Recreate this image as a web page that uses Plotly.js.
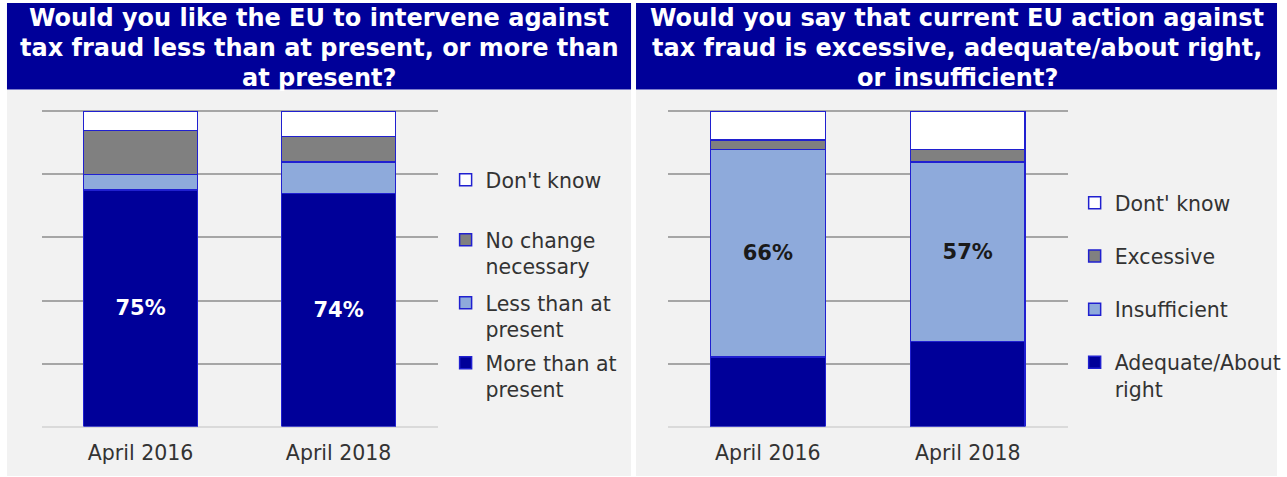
<!DOCTYPE html>
<html>
<head>
<meta charset="utf-8">
<script src="https://cdn.plot.ly/plotly-3.0.1.min.js"></script>
<style>html,body{margin:0;padding:0;background:#fff;}#chart{width:1287px;height:477px;}</style>
</head>
<body>
<div id="chart"></div>
<script>
// Data
const categories = ['April 2016', 'April 2018'];
// Left chart: Would you like the EU to intervene against tax fraud ...
const moreThanPresent = [75, 74];
const lessThanPresent = [5, 10];
const noChangeNecessary = [14, 8];
const dontKnowLeft = [6, 8];
// Right chart: current EU action against tax fraud is ...
const adequateAboutRight = [22, 27];
const insufficient = [66, 57];
const excessive = [3, 4];
const dontKnowRight = [9, 12];

const leftLabels = ['Don\'t know', 'No change<br>necessary', 'Less than at<br>present', 'More than at<br>present'];
const rightLabels = ['Dont\' know', 'Excessive', 'Insufficient', 'Adequate/About<br>right'];
const leftTitleLines = ['Would you like the EU to intervene against', 'tax fraud less than at present, or more than', 'at present?'];
const rightTitleLines = ['Would you say that current EU action against', 'tax fraud is excessive, adequate/about right,', 'or insufficient?'];

const NAVY = '#000099', LIGHT = '#8eaadb', GREY = '#808080', WHITE = '#ffffff', EDGE = '#2020d0';
const FONT = 'DejaVu Sans, Verdana, sans-serif';

function bar(name, y, color, xa, ya, legend, rank, withText, textColor) {
  const t = {
    type: 'bar', name: name, x: categories, y: y, xaxis: xa, yaxis: ya,
    legend: legend, legendgroup: legend + rank, legendrank: rank,
    marker: {color: color, line: {color: EDGE, width: 1.5}},
    width: 0.575,
    hoverinfo: 'skip'
  };
  if (withText) {
    t.text = y.map(v => v + '%');
    t.textposition = 'inside';
    t.insidetextanchor = 'middle';
    t.textangle = 0;
    t.constraintext = 'none';
    t.insidetextfont = {family: FONT, size: 21, color: textColor, weight: 'bold'};
  } else {
    t.textposition = 'none';
  }
  return t;
}

const data = [
  bar(leftLabels[3], moreThanPresent, NAVY, 'x', 'y', 'legend6', 4, true, '#ffffff'),
  bar(leftLabels[2], lessThanPresent, LIGHT, 'x', 'y', 'legend5', 3, false),
  bar(leftLabels[1], noChangeNecessary, GREY, 'x', 'y', 'legend4', 2, false),
  bar(leftLabels[0], dontKnowLeft, WHITE, 'x', 'y', 'legend3', 1, false),
  bar(rightLabels[3], adequateAboutRight, NAVY, 'x2', 'y2', 'legend2', 4, false),
  bar(rightLabels[2], insufficient, LIGHT, 'x2', 'y2', 'legend2', 3, true, '#1a1a1a'),
  bar(rightLabels[1], excessive, GREY, 'x2', 'y2', 'legend2', 2, false),
  bar(rightLabels[0], dontKnowRight, WHITE, 'x2', 'y2', 'legend2', 1, false)
];

const W = 1287, H = 477;
const px = v => v / W, py = v => 1 - v / H;

const yAxisCommon = {
  range: [0, 100.6], dtick: 20, showticklabels: false, ticks: '',
  showgrid: true, gridcolor: '#a6a6a6', gridwidth: 2,
  zeroline: true, zerolinecolor: '#dadada', zerolinewidth: 2,
  showline: false, fixedrange: true,
  domain: [py(426.5), py(109.6)]
};
const xAxisCommon = {
  type: 'category', showgrid: false, zeroline: false, showline: false, ticks: '',
  tickfont: {family: FONT, size: 20.5, color: '#333333'}, fixedrange: true,
  ticklabelstandoff: 12
};

const legendCommon = {
  font: {family: FONT, size: 20.5, color: '#333333'},
  bgcolor: 'rgba(0,0,0,0)', borderwidth: 0,
  traceorder: 'grouped', valign: 'top',
  xanchor: 'left', yanchor: 'top', itemclick: false, itemdoubleclick: false
};
const lx = px(447);

const titleAnn = (text, x, y) => ({
  xref: 'paper', yref: 'paper', x: px(x), y: py(y), xanchor: 'center', yanchor: 'middle',
  showarrow: false, align: 'center', text: text,
  font: {family: FONT, size: 24, color: '#ffffff', weight: 'bold'}
});
const lineY = [18.5, 48.5, 78];

const layout = {
  width: W, height: H,
  margin: {l: 0, r: 0, t: 0, b: 0},
  paper_bgcolor: '#ffffff', plot_bgcolor: 'rgba(0,0,0,0)',
  barmode: 'stack',
  showlegend: true,
  xaxis: Object.assign({}, xAxisCommon, {domain: [px(41.7), px(439)], anchor: 'y'}),
  yaxis: Object.assign({}, yAxisCommon, {anchor: 'x'}),
  xaxis2: Object.assign({}, xAxisCommon, {domain: [px(670), px(1071)], anchor: 'y2'}),
  yaxis2: Object.assign({}, yAxisCommon, {anchor: 'x2'}),
  legend3: Object.assign({}, legendCommon, {x: lx, y: py(160)}),
  legend4: Object.assign({}, legendCommon, {x: lx, y: py(220)}),
  legend5: Object.assign({}, legendCommon, {x: lx, y: py(283)}),
  legend6: Object.assign({}, legendCommon, {x: lx, y: py(343)}),
  legend2: Object.assign({}, legendCommon, {x: px(1078), y: py(183), tracegroupgap: 23.5}),
  shapes: [
    {type: 'rect', xref: 'paper', yref: 'paper', x0: px(7), x1: px(633), y0: py(476), y1: py(90), fillcolor: '#f2f2f2', line: {width: 0}, layer: 'below'},
    {type: 'rect', xref: 'paper', yref: 'paper', x0: px(638), x1: px(1281), y0: py(476), y1: py(90), fillcolor: '#f2f2f2', line: {width: 0}, layer: 'below'},
    {type: 'rect', xref: 'paper', yref: 'paper', x0: px(7), x1: px(633), y0: py(89.5), y1: py(3), fillcolor: NAVY, line: {width: 0}, layer: 'below'},
    {type: 'rect', xref: 'paper', yref: 'paper', x0: px(638), x1: px(1281), y0: py(89.5), y1: py(3), fillcolor: NAVY, line: {width: 0}, layer: 'below'}
  ],
  annotations: [].concat(
    leftTitleLines.map((t, i) => titleAnn(t, 320, lineY[i])),
    rightTitleLines.map((t, i) => titleAnn(t, 960, lineY[i]))
  )
};

Plotly.newPlot('chart', data, layout, {displayModeBar: false, staticPlot: true});
</script>
</body>
</html>
